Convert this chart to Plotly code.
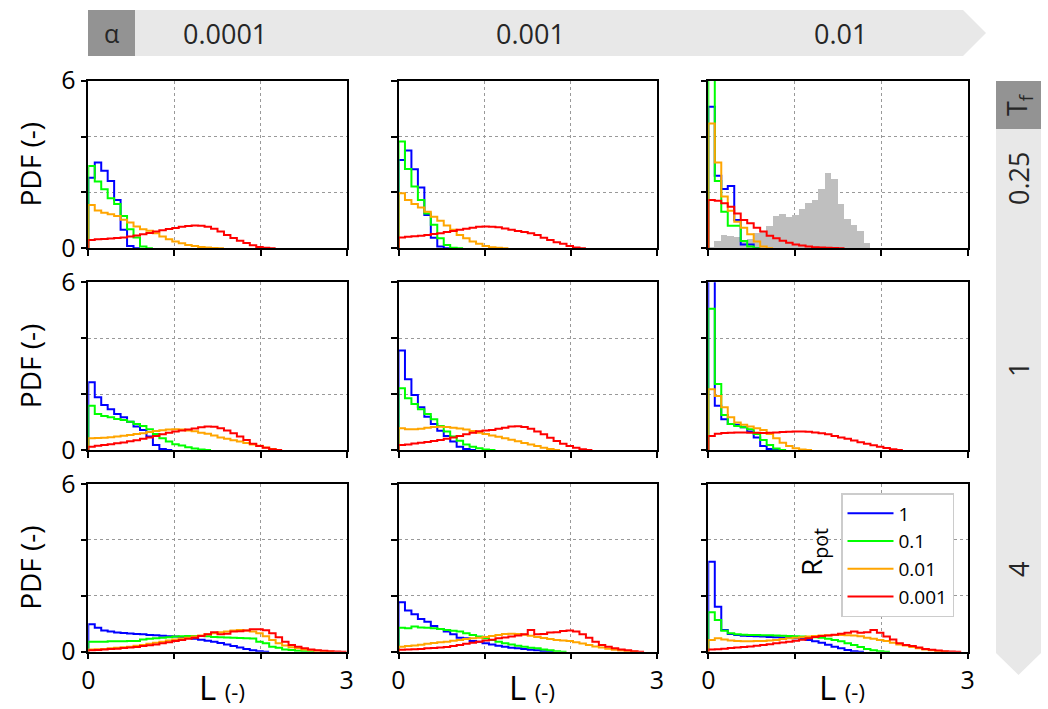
import plotly.graph_objects as go

# ---------------- data ----------------
ALPHAS = ["0.0001", "0.001", "0.01"]
TFS = ["0.25", "1", "4"]
RPOTS = ["1", "0.1", "0.01", "0.001"]
COLORS = ["#0000ff", "#00ff00", "#ffa500", "#ff0000"]
BIN_WIDTH = 0.075

# Tf = 0.25
t025_a0001_r1 = [2.53, 3.07, 2.78, 2.41, 1.73, 0.66, 0.08, 0]
t025_a0001_r01 = [2.95, 2.39, 2.11, 1.79, 1.59, 1.16, 0.68, 0.39, 0.06, 0]
t025_a0001_r001 = [1.55, 1.35, 1.27, 1.22, 1.16, 1.02, 0.92, 0.78, 0.68, 0.63, 0.54, 0.42, 0.32, 0.24,
                   0.18, 0.12, 0.08, 0.05, 0.03, 0.01, 0]
t025_a0001_r0001 = [0.30, 0.32, 0.33, 0.35, 0.37, 0.39, 0.42, 0.46, 0.50, 0.55, 0.60, 0.65, 0.69, 0.73,
                    0.77, 0.80, 0.82, 0.81, 0.77, 0.70, 0.60, 0.48, 0.37, 0.27, 0.19, 0.11, 0.05, 0.02, 0]

t025_a001_r1 = [3.16, 3.50, 2.83, 2.18, 1.19, 0.38, 0.06, 0]
t025_a001_r01 = [3.82, 2.84, 2.21, 1.73, 1.25, 0.84, 0.36, 0.12, 0.02, 0]
t025_a001_r001 = [1.97, 1.73, 1.59, 1.46, 1.31, 1.13, 0.99, 0.82, 0.66, 0.48, 0.36, 0.24, 0.16, 0.08,
                  0.04, 0.02, 0]
t025_a001_r0001 = [0.39, 0.41, 0.43, 0.45, 0.48, 0.51, 0.54, 0.58, 0.62, 0.66, 0.70, 0.74, 0.77, 0.78,
                   0.77, 0.75, 0.71, 0.66, 0.62, 0.58, 0.54, 0.48, 0.38, 0.30, 0.22, 0.16, 0.08, 0.03, 0]

t025_a01_r1 = [5.07, 2.60, 2.12, 2.23, 1.01, 0.14, 0.14, 0]
t025_a01_r01 = [7.50, 2.41, 1.31, 0.81, 0.81, 0.26, 0.06, 0]
t025_a01_r001 = [4.47, 3.07, 1.85, 1.34, 0.95, 0.74, 0.50, 0.24, 0.06, 0]
t025_a01_r0001 = [1.73, 1.70, 1.61, 1.49, 1.25, 1.01, 0.90, 0.74, 0.60, 0.45, 0.36, 0.27, 0.20, 0.14,
                  0.10, 0.06, 0.04, 0.03, 0.02, 0.01, 0]
t025_a01_reference = [0.06, 0.26, 0.48, 0.44, 0.40, 0.26, 0.35, 0.55, 0.60, 0.81, 1.16, 1.23, 1.13,
                      1.22, 1.41, 1.65, 1.73, 2.12, 2.71, 2.48, 1.61, 1.07, 0.86, 0.63, 0.20]

# Tf = 1
t1_a0001_r1 = [2.42, 1.89, 1.61, 1.46, 1.29, 1.17, 1.01, 0.84, 0.72, 0.48, 0.18, 0.04, 0]
t1_a0001_r01 = [1.58, 1.29, 1.22, 1.17, 1.11, 1.07, 1.01, 0.93, 0.86, 0.74, 0.57, 0.42, 0.30, 0.21,
                0.16, 0.10, 0.05, 0.02, 0]
t1_a0001_r001 = [0.42, 0.43, 0.44, 0.46, 0.48, 0.51, 0.54, 0.57, 0.60, 0.64, 0.68, 0.71, 0.73, 0.74,
                 0.73, 0.70, 0.67, 0.62, 0.58, 0.52, 0.45, 0.40, 0.35, 0.30, 0.25, 0.20, 0.15, 0.09, 0.04, 0]
t1_a0001_r0001 = [0.12, 0.15, 0.18, 0.21, 0.24, 0.27, 0.31, 0.35, 0.40, 0.45, 0.50, 0.56, 0.62, 0.66,
                  0.70, 0.73, 0.77, 0.81, 0.84, 0.83, 0.78, 0.70, 0.60, 0.48, 0.36, 0.22, 0.14, 0.08, 0.03, 0]

t1_a001_r1 = [3.56, 2.53, 1.97, 1.53, 1.19, 0.93, 0.69, 0.50, 0.30, 0.12, 0.04, 0]
t1_a001_r01 = [2.21, 1.85, 1.65, 1.46, 1.29, 1.10, 0.86, 0.66, 0.48, 0.33, 0.20, 0.12, 0.06, 0.02, 0]
t1_a001_r001 = [0.78, 0.74, 0.74, 0.76, 0.80, 0.82, 0.83, 0.82, 0.80, 0.77, 0.73, 0.68, 0.62, 0.57,
                0.52, 0.47, 0.42, 0.37, 0.31, 0.25, 0.20, 0.14, 0.08, 0.04, 0]
t1_a001_r0001 = [0.18, 0.20, 0.23, 0.26, 0.29, 0.32, 0.36, 0.40, 0.45, 0.50, 0.56, 0.62, 0.67, 0.70,
                 0.72, 0.76, 0.80, 0.84, 0.85, 0.82, 0.76, 0.66, 0.56, 0.44, 0.32, 0.22, 0.14, 0.08, 0.03, 0]

t1_a01_r1 = [8.00, 1.58, 1.10, 0.93, 0.90, 0.81, 0.66, 0.45, 0.14, 0.04, 0]
t1_a01_r01 = [5.05, 2.36, 1.25, 0.93, 0.86, 0.81, 0.74, 0.57, 0.36, 0.18, 0.05, 0]
t1_a01_r001 = [2.17, 1.93, 1.53, 1.17, 0.98, 0.90, 0.84, 0.78, 0.72, 0.57, 0.42, 0.26, 0.14, 0.06, 0.02, 0]
t1_a01_r0001 = [0.50, 0.58, 0.61, 0.62, 0.63, 0.63, 0.62, 0.62, 0.61, 0.62, 0.63, 0.64, 0.65, 0.66,
                0.66, 0.65, 0.63, 0.60, 0.56, 0.50, 0.45, 0.40, 0.34, 0.28, 0.22, 0.17, 0.12, 0.07, 0.03, 0]

# Tf = 4
t4_a0001_r1 = [0.98, 0.86, 0.76, 0.72, 0.69, 0.67, 0.65, 0.63, 0.62, 0.60, 0.59, 0.57, 0.55, 0.54,
               0.52, 0.49, 0.46, 0.43, 0.39, 0.36, 0.31, 0.26, 0.20, 0.15, 0.10, 0.05, 0.02, 0]
t4_a0001_r01 = [0.36, 0.36, 0.36, 0.37, 0.37, 0.37, 0.38, 0.38, 0.44, 0.46, 0.48, 0.50, 0.52, 0.54,
                0.55, 0.56, 0.56, 0.56, 0.55, 0.53, 0.52, 0.51, 0.50, 0.49, 0.48, 0.47, 0.36, 0.30,
                0.18, 0.14, 0.08, 0.06, 0.03, 0.02, 0]
t4_a0001_r001 = [0.08, 0.09, 0.10, 0.12, 0.14, 0.16, 0.18, 0.21, 0.24, 0.28, 0.32, 0.36, 0.40, 0.44,
                 0.47, 0.50, 0.54, 0.58, 0.62, 0.66, 0.70, 0.72, 0.76, 0.78, 0.76, 0.72, 0.66, 0.55,
                 0.42, 0.30, 0.22, 0.16, 0.12, 0.08, 0.05, 0.03, 0.01, 0]
t4_a0001_r0001 = [0.05, 0.06, 0.08, 0.10, 0.11, 0.13, 0.15, 0.17, 0.20, 0.23, 0.26, 0.30, 0.34, 0.38,
                  0.42, 0.46, 0.50, 0.56, 0.62, 0.70, 0.62, 0.64, 0.72, 0.73, 0.76, 0.80, 0.80, 0.77,
                  0.66, 0.52, 0.36, 0.24, 0.18, 0.12, 0.08, 0.05, 0.03, 0.02, 0.01, 0]

t4_a001_r1 = [1.77, 1.47, 1.34, 1.17, 1.07, 0.92, 0.81, 0.72, 0.62, 0.50, 0.48, 0.38, 0.36, 0.30,
              0.26, 0.21, 0.18, 0.14, 0.12, 0.10, 0.07, 0.05, 0.02, 0]
t4_a001_r01 = [0.86, 0.84, 0.90, 0.87, 0.86, 0.84, 0.81, 0.78, 0.75, 0.72, 0.66, 0.60, 0.54, 0.48,
               0.42, 0.36, 0.30, 0.26, 0.21, 0.18, 0.14, 0.12, 0.08, 0.05, 0.02, 0]
t4_a001_r001 = [0.18, 0.20, 0.22, 0.25, 0.28, 0.31, 0.34, 0.36, 0.39, 0.42, 0.45, 0.48, 0.50, 0.53,
                0.56, 0.60, 0.63, 0.64, 0.63, 0.61, 0.57, 0.53, 0.49, 0.45, 0.42, 0.40, 0.38, 0.34,
                0.29, 0.24, 0.19, 0.15, 0.11, 0.07, 0.04, 0.02, 0]
t4_a001_r0001 = [0.07, 0.08, 0.09, 0.10, 0.12, 0.13, 0.15, 0.17, 0.20, 0.24, 0.28, 0.32, 0.36, 0.40,
                 0.43, 0.48, 0.51, 0.54, 0.58, 0.62, 0.78, 0.62, 0.63, 0.69, 0.70, 0.74, 0.76, 0.72,
                 0.62, 0.50, 0.36, 0.24, 0.18, 0.12, 0.08, 0.05, 0.02, 0]

t4_a01_r1 = [3.22, 1.61, 0.78, 0.63, 0.60, 0.57, 0.56, 0.55, 0.54, 0.53, 0.52, 0.51, 0.50, 0.48,
             0.46, 0.42, 0.37, 0.32, 0.25, 0.18, 0.12, 0.06, 0.02, 0]
t4_a01_r01 = [1.41, 1.13, 0.75, 0.66, 0.62, 0.61, 0.60, 0.60, 0.59, 0.59, 0.58, 0.57, 0.56, 0.55,
              0.54, 0.53, 0.52, 0.50, 0.46, 0.42, 0.37, 0.30, 0.24, 0.17, 0.10, 0.05, 0.02, 0]
t4_a01_r001 = [0.42, 0.48, 0.44, 0.40, 0.38, 0.37, 0.37, 0.38, 0.38, 0.40, 0.42, 0.45, 0.48, 0.50,
               0.52, 0.54, 0.56, 0.58, 0.59, 0.60, 0.60, 0.59, 0.58, 0.55, 0.50, 0.46, 0.42, 0.38,
               0.32, 0.26, 0.22, 0.17, 0.12, 0.08, 0.05, 0.02, 0]
t4_a01_r0001 = [0.08, 0.09, 0.11, 0.13, 0.15, 0.17, 0.19, 0.21, 0.24, 0.27, 0.30, 0.33, 0.36, 0.39,
                0.43, 0.48, 0.53, 0.56, 0.58, 0.61, 0.64, 0.68, 0.72, 0.68, 0.70, 0.78, 0.68, 0.54,
                0.44, 0.30, 0.24, 0.20, 0.15, 0.10, 0.07, 0.04, 0.02, 0.01, 0]

# lookup table built from the named arrays: [row][col] -> list of 4 series
PANELS = [
    [[t025_a0001_r1, t025_a0001_r01, t025_a0001_r001, t025_a0001_r0001],
     [t025_a001_r1, t025_a001_r01, t025_a001_r001, t025_a001_r0001],
     [t025_a01_r1, t025_a01_r01, t025_a01_r001, t025_a01_r0001]],
    [[t1_a0001_r1, t1_a0001_r01, t1_a0001_r001, t1_a0001_r0001],
     [t1_a001_r1, t1_a001_r01, t1_a001_r001, t1_a001_r0001],
     [t1_a01_r1, t1_a01_r01, t1_a01_r001, t1_a01_r0001]],
    [[t4_a0001_r1, t4_a0001_r01, t4_a0001_r001, t4_a0001_r0001],
     [t4_a001_r1, t4_a001_r01, t4_a001_r001, t4_a001_r0001],
     [t4_a01_r1, t4_a01_r01, t4_a01_r001, t4_a01_r0001]],
]

# ---------------- layout geometry (pixels) ----------------
W, H = 1048, 709
COL_PX = [(88.3, 346.7), (398.5, 657.0), (708.3, 967.7)]
ROW_PX = [(80.7, 248.3), (282.3, 450.0), (484.0, 651.7)]
FONT = "Open Sans"


def px(x):
    return x / W


def py(y):
    return 1 - y / H


fig = go.Figure()

for r in range(3):
    for c in range(3):
        k = r * 3 + c + 1
        xa = "x" if k == 1 else f"x{k}"
        ya = "y" if k == 1 else f"y{k}"
        if r == 0 and c == 2:
            ref = t025_a01_reference
            centers = [(i + 0.5) * BIN_WIDTH for i in range(len(ref))]
            fig.add_trace(go.Bar(x=centers, y=ref, width=BIN_WIDTH,
                                 marker=dict(color="#bfbfbf", line=dict(width=0)),
                                 xaxis=xa, yaxis=ya, showlegend=False, hoverinfo="skip"))
        for s, vals in enumerate(PANELS[r][c]):
            n = len(vals)
            edges = [i * BIN_WIDTH for i in range(n + 1)]
            xs = [0.0] + edges[:n] + [edges[n]]
            ys = [0.0] + list(vals) + [0.0]
            fig.add_trace(go.Scatter(
                x=xs, y=ys, mode="lines", line=dict(color=COLORS[s], width=2, shape="hv"),
                xaxis=xa, yaxis=ya, name=RPOTS[s], showlegend=(r == 2 and c == 2),
                hoverinfo="skip"))

layout = dict(
    width=W, height=H, margin=dict(l=0, r=0, t=0, b=0, autoexpand=False),
    paper_bgcolor="white", plot_bgcolor="white",
    font=dict(family=FONT, color="black"),
    showlegend=True,
    legend=dict(x=px(841), y=py(493), xanchor="left", yanchor="top",
                bgcolor="white", bordercolor="#cccccc", borderwidth=1.5,
                font=dict(size=19, family=FONT), itemwidth=46, tracegroupgap=0),
    bargap=0,
)

GRID = dict(showgrid=True, gridcolor="#999999", griddash="dot", gridwidth=1,
            ticks="outside", ticklen=6, tickwidth=1.5, tickcolor="black")

for r in range(3):
    for c in range(3):
        k = r * 3 + c + 1
        sx = "" if k == 1 else str(k)
        axis_common = dict(showline=True, linecolor="black", linewidth=1.5, mirror=True,
                           ticks="outside", ticklen=6, tickwidth=1.5, tickcolor="black",
                           showgrid=False, zeroline=False, automargin=False,
                           tickfont=dict(size=25, family=FONT, color="black"))
        layout[f"xaxis{sx}"] = dict(
            axis_common, domain=[px(COL_PX[c][0]), px(COL_PX[c][1])], range=[0, 3],
            anchor=f"y{sx}", tickmode="array", tickvals=[0, 3], ticktext=["0", "3"],
            showticklabels=(r == 2),
            minor=dict(GRID, tickmode="array", tickvals=[1, 2]))
        layout[f"yaxis{sx}"] = dict(
            axis_common, domain=[py(ROW_PX[r][1]), py(ROW_PX[r][0])], range=[0, 6],
            anchor=f"x{sx}", tickmode="array", tickvals=[0, 6], ticktext=["0", "6"],
            showticklabels=(c == 0),
            minor=dict(GRID, tickmode="array", tickvals=[2, 4]))

fig.update_layout(**layout)

# ---------------- banners ----------------
BANNER = "#e8e8e8"
DARK = "#939393"
shapes = [
    dict(type="path", xref="paper", yref="paper", fillcolor=BANNER, line=dict(width=0), layer="below",
         path=f"M {px(88)} {py(10)} L {px(963)} {py(10)} L {px(986)} {py(33)} L {px(963)} {py(56)} "
              f"L {px(88)} {py(56)} Z"),
    dict(type="rect", xref="paper", yref="paper", x0=px(88), x1=px(135), y0=py(56), y1=py(10),
         fillcolor=DARK, line=dict(width=0), layer="below"),
    dict(type="path", xref="paper", yref="paper", fillcolor=BANNER, line=dict(width=0), layer="below",
         path=f"M {px(996)} {py(81)} L {px(1041)} {py(81)} L {px(1041)} {py(653)} L {px(1018.5)} {py(675)} "
              f"L {px(996)} {py(653)} Z"),
    dict(type="rect", xref="paper", yref="paper", x0=px(996), x1=px(1041), y0=py(129), y1=py(81),
         fillcolor=DARK, line=dict(width=0), layer="below"),
]
fig.update_layout(shapes=shapes)

TXT = "#262626"
ann = []


def add_text(text, x, y, size, angle=0, color=TXT, xanchor="center"):
    ann.append(dict(text=text, x=px(x), y=py(y), xref="paper", yref="paper", showarrow=False,
                    xanchor=xanchor, yanchor="middle", textangle=angle,
                    font=dict(size=size, family=FONT, color=color)))


add_text("α", 111, 33, 25)
for lab, xc in zip(ALPHAS, [225, 530, 840]):
    add_text(lab, xc, 33, 27)
add_text("T<sub>f</sub>", 1018, 105, 27, angle=-90)
for lab, yc in zip(TFS, [179, 370, 570]):
    add_text(lab, 1018, yc, 27, angle=-90)

for r in range(3):
    add_text("PDF (-)", 30, (ROW_PX[r][0] + ROW_PX[r][1]) / 2, 28, angle=-90, color="black")
for c in range(3):
    add_text('L <span style="font-size:22px">(-)</span>', (COL_PX[c][0] + COL_PX[c][1]) / 2 + 4, 687, 33,
             color="black")

add_text("R<sub>pot</sub>", 813, 552, 28, angle=-90, color="black")

fig.update_layout(annotations=ann)

fig.write_html("out.html")
